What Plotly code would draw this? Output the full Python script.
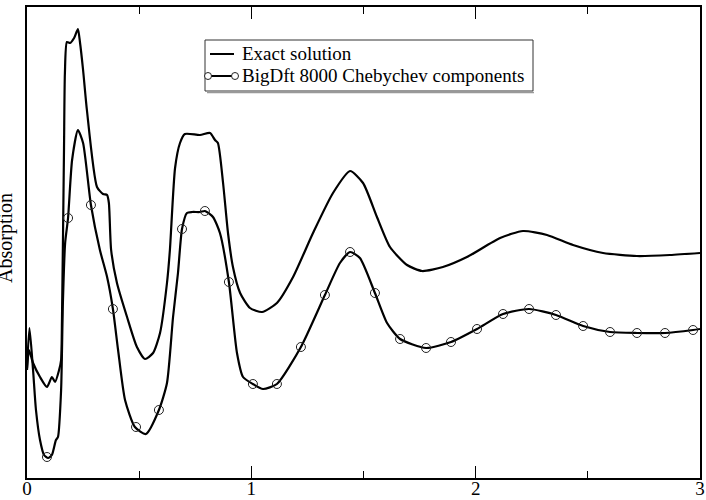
import plotly.graph_objects as go

# ---- data (y in arbitrary absorption units) ----
exact_x = [0, 0.009, 0.027, 0.058, 0.089, 0.111, 0.125, 0.143, 0.152, 0.156, 0.165, 0.169,
           0.178, 0.192, 0.210, 0.227, 0.236, 0.250, 0.267, 0.312, 0.339, 0.357, 0.365,
           0.375, 0.401, 0.446, 0.490, 0.526, 0.562, 0.593, 0.624, 0.637, 0.660, 0.682,
           0.704, 0.771, 0.816, 0.838, 0.851, 0.874, 0.896, 0.918, 0.950, 0.994, 1.048,
           1.114, 1.186, 1.275, 1.364, 1.440, 1.498, 1.560, 1.618, 1.694, 1.761, 1.854,
           1.961, 2.109, 2.211, 2.318, 2.434, 2.568, 2.719, 2.866, 3.0]
exact_y = [108, 128, 115, 101, 91, 101, 96, 108, 118, 160, 330, 405,
           436, 435, 440, 449, 436, 408, 368, 291, 284, 283, 275,
           228, 195, 161, 131, 119, 125, 145, 195, 228, 310, 335,
           344, 343, 345, 338, 335, 295, 245, 211, 185, 170, 166,
           175, 201, 245, 285, 307, 295, 261, 231, 213, 207, 211,
           221, 240, 247, 243, 233, 225, 222, 223, 225]

bigdft_x = [0, 0.011, 0.027, 0.040, 0.058, 0.076, 0.094, 0.111, 0.129, 0.138, 0.152, 0.160,
            0.170, 0.183, 0.201, 0.227, 0.250, 0.285, 0.325, 0.357, 0.383, 0.406, 0.437,
            0.481, 0.530, 0.588, 0.624, 0.651, 0.673, 0.691, 0.713, 0.736, 0.771, 0.793,
            0.829, 0.860, 0.900, 0.936, 0.963, 1.007, 1.052, 1.114, 1.221, 1.328, 1.395,
            1.440, 1.484, 1.551, 1.605, 1.663, 1.779, 1.890, 2.006, 2.122, 2.238, 2.358,
            2.479, 2.599, 2.719, 2.844, 2.969, 3.0]
bigdft_y = [110, 150, 108, 68, 38, 23, 20, 23, 38, 41, 88, 175,
            235, 260, 318, 348, 335, 273, 228, 201, 169, 128, 78,
            51, 44, 68, 95, 161, 205, 249, 265, 266, 266, 267,
            261, 245, 196, 125, 101, 94, 89, 94, 131, 183, 215,
            226, 220, 185, 155, 139, 130, 136, 149, 164, 169, 163,
            152, 146, 145, 145, 148, 149]

marker_x = [0.089, 0.183, 0.285, 0.383, 0.486, 0.588, 0.691, 0.793, 0.900, 1.007, 1.114,
            1.221, 1.328, 1.440, 1.551, 1.663, 1.779, 1.890, 2.006, 2.122, 2.238, 2.358,
            2.479, 2.599, 2.719, 2.844, 2.969]
marker_y = [21, 260, 273, 169, 51, 68, 249, 267, 196, 94, 94,
            131, 183, 226, 185, 139, 130, 136, 149, 164, 169, 163,
            152, 146, 145, 145, 148]

x_tick_vals = [0, 1, 2, 3]
x_tick_text = ["0", "1", "2", "3"]
legend_labels = ["Exact solution", "BigDft 8000 Chebychev components"]
y_title = "Absorption"

FONT = "Liberation Serif, Times New Roman, serif"
PLOT_W, PLOT_H = 673, 471


def px(xp):  # pixel offset from plot-left -> paper fraction
    return xp / PLOT_W


def py(yp):  # pixel offset from plot-bottom -> paper fraction
    return yp / PLOT_H


fig = go.Figure()
fig.add_trace(go.Scatter(x=exact_x, y=exact_y, mode="lines",
                         line=dict(color="black", width=2.2, shape="spline", smoothing=0.6),
                         showlegend=False, hoverinfo="skip"))
fig.add_trace(go.Scatter(x=bigdft_x, y=bigdft_y, mode="lines",
                         line=dict(color="black", width=2.2, shape="spline", smoothing=0.6),
                         showlegend=False, hoverinfo="skip"))
fig.add_trace(go.Scatter(x=marker_x, y=marker_y, mode="markers",
                         marker=dict(symbol="circle-open", size=9, color="#222",
                                     line=dict(width=1)),
                         showlegend=False, hoverinfo="skip"))

# ---- hand-built legend (paper coordinates) ----
L, R = px(205 - 27), px(533 - 27)
T, B = py(478 - 40), py(478 - 91)
row_y = [py(478 - 54), py(478 - 76)]
shapes = [
    dict(type="rect", xref="paper", yref="paper", x0=L, x1=R, y0=B, y1=T,
         line=dict(color="#333", width=1), fillcolor="white", layer="above"),
    dict(type="line", xref="paper", yref="paper", x0=L + px(2), x1=R + px(1),
         y0=B - py(1.5), y1=B - py(1.5), line=dict(color="#999", width=1.5)),
    dict(type="line", xref="paper", yref="paper", x0=px(210 - 27), x1=px(234 - 27),
         y0=row_y[0], y1=row_y[0], line=dict(color="black", width=2)),
    dict(type="line", xref="paper", yref="paper", x0=px(208 - 27), x1=px(235 - 27),
         y0=row_y[1], y1=row_y[1], line=dict(color="black", width=2)),
]
for cx in (px(208 - 27), px(235 - 27)):
    shapes.append(dict(type="circle", xref="paper", yref="paper",
                       xsizemode="pixel", ysizemode="pixel",
                       xanchor=cx, yanchor=row_y[1],
                       x0=-3.5, x1=3.5, y0=-3.5, y1=3.5,
                       line=dict(color="#222", width=1), fillcolor="white"))

annotations = [
    dict(text=legend_labels[0], xref="paper", yref="paper", x=px(240 - 27), y=row_y[0],
         xanchor="left", yanchor="middle", showarrow=False,
         font=dict(family=FONT, size=19, color="black")),
    dict(text=legend_labels[1], xref="paper", yref="paper", x=px(240 - 27), y=row_y[1],
         xanchor="left", yanchor="middle", showarrow=False,
         font=dict(family=FONT, size=19, color="black")),
    dict(text=y_title, xref="paper", yref="paper", x=px(5 - 27), y=py(478 - 238),
         xanchor="center", yanchor="middle", textangle=-90, showarrow=False,
         font=dict(family=FONT, size=20, color="black")),
]

fig.update_layout(
    width=706, height=500,
    margin=dict(l=27, r=6, t=7, b=22, autoexpand=False),
    paper_bgcolor="white", plot_bgcolor="white",
    font=dict(family=FONT, size=18, color="black"),
    shapes=shapes, annotations=annotations,
    xaxis=dict(range=[0, 3], tickvals=x_tick_vals, ticktext=x_tick_text,
               ticks="inside", ticklen=12, tickwidth=1, tickcolor="black",
               minor=dict(dtick=0.5, ticks="inside", ticklen=7, tickwidth=1, tickcolor="black"),
               showline=True, linecolor="black", linewidth=1.5, mirror="allticks",
               showgrid=False, zeroline=False, automargin=False,
               ticklabelstandoff=-8,
               tickfont=dict(family=FONT, size=19, color="black")),
    yaxis=dict(range=[0, 471], showticklabels=False, ticks="",
               showline=True, linecolor="black", linewidth=1.5, mirror=True,
               showgrid=False, zeroline=False, automargin=False),
)

fig.write_html("out.html")
